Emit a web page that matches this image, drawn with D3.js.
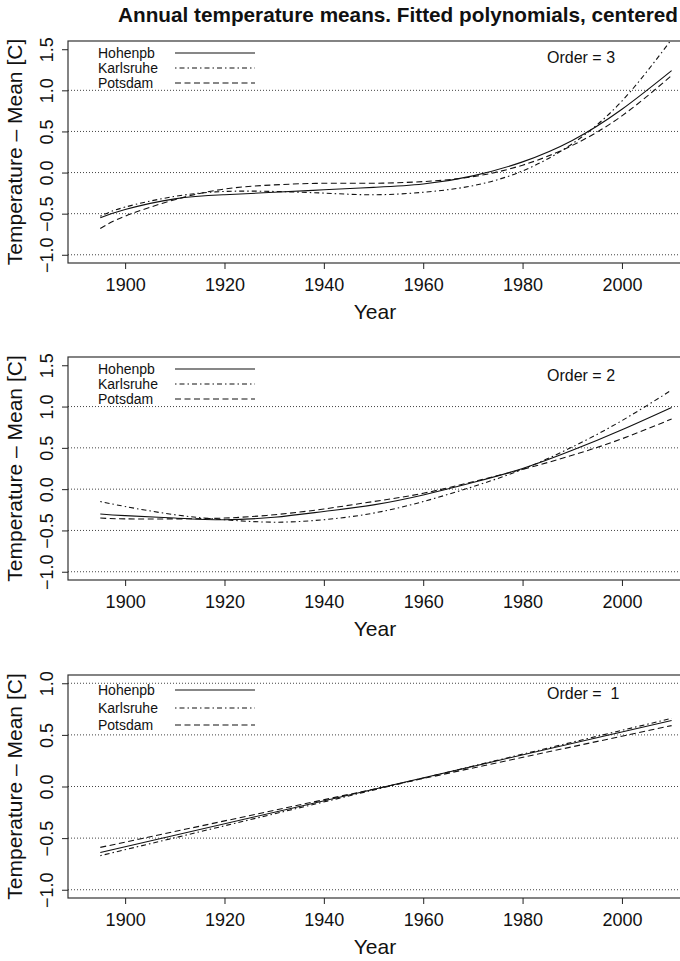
<!DOCTYPE html>
<html>
<head>
<meta charset="utf-8">
<script src="https://cdn.jsdelivr.net/npm/d3@7"></script>
<style>
  body { margin: 0; background: #fff; }
  svg { display: block; font-family: "Liberation Sans", Arial, Helvetica, sans-serif; }
  .tick line { stroke: #222; }
</style>
</head>
<body>
<div id="chart"></div>
<script>
// station names (legend order)
const stations = ["Hohenpb", "Karlsruhe", "Potsdam"];

const yearsPoly = [1895, 1900, 1910, 1920, 1930, 1940, 1950, 1960, 1970, 1980, 1990, 2000, 2010];
const yearsLin = [1895, 2010];

// order 3 fits
const hohenpb3   = [-0.55, -0.45, -0.32, -0.27, -0.24, -0.21, -0.18, -0.14, -0.04, 0.13, 0.39, 0.77, 1.24];
const karlsruhe3 = [-0.53, -0.42, -0.29, -0.23, -0.23, -0.25, -0.27, -0.24, -0.16, 0.02, 0.35, 0.87, 1.62];
const potsdam3   = [-0.68, -0.53, -0.33, -0.20, -0.15, -0.13, -0.13, -0.11, -0.05, 0.09, 0.33, 0.69, 1.18];

// order 2 fits
const hohenpb2   = [-0.30, -0.32, -0.35, -0.37, -0.34, -0.27, -0.19, -0.07, 0.08, 0.25, 0.47, 0.72, 0.99];
const karlsruhe2 = [-0.15, -0.21, -0.31, -0.37, -0.40, -0.37, -0.29, -0.15, 0.03, 0.24, 0.51, 0.83, 1.20];
const potsdam2   = [-0.35, -0.36, -0.36, -0.35, -0.31, -0.24, -0.15, -0.05, 0.09, 0.24, 0.41, 0.61, 0.85];

// order 1 fits
const hohenpb1   = [-0.64, 0.64];
const karlsruhe1 = [-0.67, 0.66];
const potsdam1   = [-0.59, 0.59];

// tick labels and dotted reference levels
const xTicks = [1900, 1920, 1940, 1960, 1980, 2000];
const yTicksWide = [-1.0, -0.5, 0.0, 0.5, 1.0, 1.5];
const yTicksNarrow = [-1.0, -0.5, 0.0, 0.5, 1.0];
const gridLevels = [-1.0, -0.5, 0.0, 0.5, 1.0];

const W = 680, H = 961;
const left = 68, right = 690;

const svg = d3.select("#chart").append("svg")
    .attr("width", W)
    .attr("height", H);

const dashes = { "Hohenpb": null, "Karlsruhe": "1.5,3,5,3", "Potsdam": "6,3.5" };

const x = d3.scaleLinear().domain([1888.5, 2013.7]).range([left, right]);

const panels = [
    { top: 41, bottom: 263, yDom: [-1.1, 1.6], ticks: yTicksWide, label: "Order = 3",
      years: yearsPoly, series: [hohenpb3, karlsruhe3, potsdam3], legendRows: [12, 27, 42], orderDy: 22 },
    { top: 357, bottom: 580, yDom: [-1.1, 1.6], ticks: yTicksWide, label: "Order = 2",
      years: yearsPoly, series: [hohenpb2, karlsruhe2, potsdam2], legendRows: [12, 27, 42], orderDy: 24 },
    { top: 675, bottom: 898, yDom: [-1.08, 1.08], ticks: yTicksNarrow, label: "Order =  1",
      years: yearsLin, series: [hohenpb1, karlsruhe1, potsdam1], legendRows: [15, 33, 50], orderDy: 24 }
];

// Title
const title = svg.append("text")
    .attr("x", 398)
    .attr("y", 22)
    .style("text-anchor", "middle")
    .style("font-weight", "bold")
    .style("font-size", "17px")
    .style("fill", "#111")
    .text("Annual temperature means. Fitted polynomials, centered");
const tw = title.node().getComputedTextLength();
title.style("font-size", (17 * 560 / tw).toFixed(2) + "px");

panels.forEach((p, i) => {
    const y = d3.scaleLinear().domain(p.yDom).range([p.bottom, p.top]);
    const g = svg.append("g");

    g.append("clipPath").attr("id", "clip" + i)
        .append("rect")
        .attr("x", left).attr("y", p.top)
        .attr("width", right - left).attr("height", p.bottom - p.top);

    // dotted grid
    g.selectAll(".grid")
        .data(gridLevels)
        .enter()
        .append("line")
        .attr("x1", left).attr("x2", right)
        .attr("y1", d => y(d)).attr("y2", d => y(d))
        .attr("stroke", "#444")
        .attr("stroke-width", 1)
        .attr("stroke-dasharray", "1,2");

    // curves
    const line = d3.line()
        .x(d => x(d[0]))
        .y(d => y(d[1]))
        .curve(d3.curveNatural);

    stations.forEach((s, k) => {
        const pts = p.years.map((yr, j) => [yr, p.series[k][j]]);
        g.append("path")
            .datum(pts)
            .attr("clip-path", `url(#clip${i})`)
            .attr("fill", "none")
            .attr("stroke", "#111")
            .attr("stroke-width", 1.1)
            .attr("stroke-dasharray", dashes[s])
            .attr("d", line);
    });

    // box
    g.append("rect")
        .attr("x", left).attr("y", p.top)
        .attr("width", right - left).attr("height", p.bottom - p.top)
        .attr("fill", "none")
        .attr("stroke", "#333")
        .attr("stroke-width", 1.2);

    // x axis
    const xa = g.append("g")
        .attr("transform", `translate(0,${p.bottom})`)
        .call(d3.axisBottom(x).tickValues(xTicks).tickFormat(d3.format("d")).tickSize(6).tickPadding(9));
    xa.select(".domain").remove();
    xa.selectAll("text").style("font-size", "18px").style("fill", "#111").attr("font-family", null);

    // y axis
    const ya = g.append("g")
        .attr("transform", `translate(${left},0)`)
        .call(d3.axisLeft(y).tickValues(p.ticks).tickFormat(d3.format(".1f")).tickSize(6));
    ya.select(".domain").remove();
    ya.selectAll("text")
        .attr("x", 0)
        .attr("y", -15)
        .attr("dy", null)
        .attr("transform", "rotate(-90)")
        .style("text-anchor", "middle")
        .style("font-size", "18px")
        .style("fill", "#111")
        .attr("font-family", null);

    // axis titles
    g.append("text")
        .attr("x", (left + right) / 2 - 4)
        .attr("y", p.bottom + 56)
        .style("text-anchor", "middle")
        .style("font-size", "21px")
        .style("fill", "#111")
        .text("Year");

    g.append("text")
        .attr("transform", `translate(22,${(p.top + p.bottom) / 2}) rotate(-90)`)
        .style("text-anchor", "middle")
        .style("font-size", "21px")
        .style("fill", "#111")
        .text("Temperature \u2013 Mean [C]");

    // legend
    stations.forEach((s, k) => {
        const cy = p.top + p.legendRows[k];
        g.append("text")
            .attr("x", 98)
            .attr("y", cy + 5)
            .style("font-size", "14px")
            .style("fill", "#111")
            .text(s);
        g.append("line")
            .attr("x1", 175).attr("x2", 255)
            .attr("y1", cy).attr("y2", cy)
            .attr("stroke", "#111")
            .attr("stroke-width", 1.1)
            .attr("stroke-dasharray", dashes[s]);
    });

    g.append("text")
        .attr("x", 547)
        .attr("y", p.top + p.orderDy)
        .style("font-size", "16px")
        .style("fill", "#111")
        .attr("xml:space", "preserve")
        .style("white-space", "pre")
        .text(p.label);
});
</script>
</body>
</html>
